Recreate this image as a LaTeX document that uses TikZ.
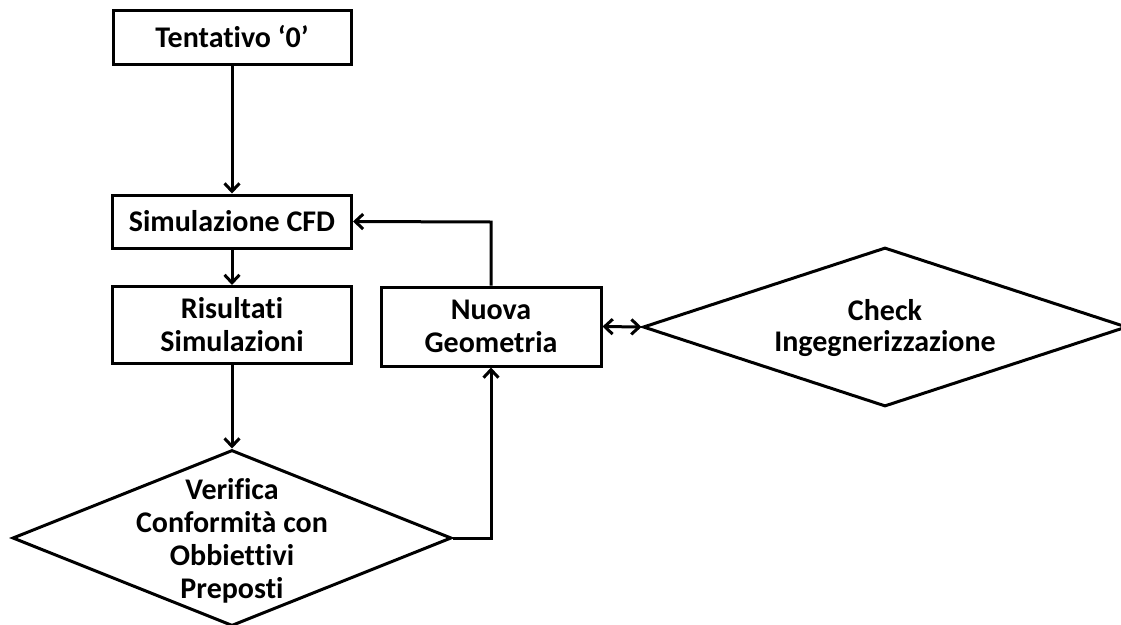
\documentclass[tikz,border=0pt]{standalone}
\usepackage{fontspec}
\setmainfont{Carlito}[Ligatures={NoCommon}]
\usetikzlibrary{arrows.meta,positioning,shapes.geometric}

\begin{document}
\begin{tikzpicture}[
  x=1pt,y=-1pt,
  font=\fontsize{30}{33}\selectfont\bfseries,
  box/.style={draw,line width=3pt,align=center,inner sep=0pt},
  decision/.style={draw,line width=3pt,shape=diamond,inner sep=0pt},
  arrow/.style={-{Straight Barb[length=8pt,width=15pt]},line width=3pt}
]
\useasboundingbox (0,0) rectangle (1121,624);
\node[box,minimum width=238pt,minimum height=54pt] (tent) at (232,37) {Tentativo ‘0’};
\node[box,minimum width=239pt,minimum height=53pt] (sim) at (232,221.5) {Simulazione CFD};
\node[box,minimum width=239pt,minimum height=77pt] (ris) at (232,325) {Risultati\\Simulazioni};
\node[box,minimum width=220pt,minimum height=79pt] (nuova) at (491,326.5) {Nuova\\Geometria};
\node[decision,minimum width=439pt,minimum height=176pt,
  label={[align=center,yshift=-3pt]center:Verifica\\Conformità con\\Obbiettivi\\Preposti}] (verifica) at (232,538) {};
\node[decision,minimum width=484pt,minimum height=159pt,
  label={[align=center,yshift=-1pt,font=\fontsize{30}{31}\selectfont\bfseries]center:Check\\Ingegnerizzazione}] (check) at (885,327) {};
\coordinate (corner) at (491,538);
\coordinate (ritorno) at (491,222);

\draw[arrow] (tent) -- (sim);
\draw[arrow] (sim) -- (ris);
\draw[arrow] (ris) -- (verifica.north);
\draw[arrow] (verifica.east) -- (corner) -- (nuova.south);
\draw[arrow] (nuova.north) -- (ritorno) -- (sim.east);
\draw[line width=3pt,{Straight Barb[length=8pt,width=15pt]}-{Straight Barb[length=8pt,width=15pt]}] (nuova.east) -- (check.west);
\end{tikzpicture}
\end{document}
